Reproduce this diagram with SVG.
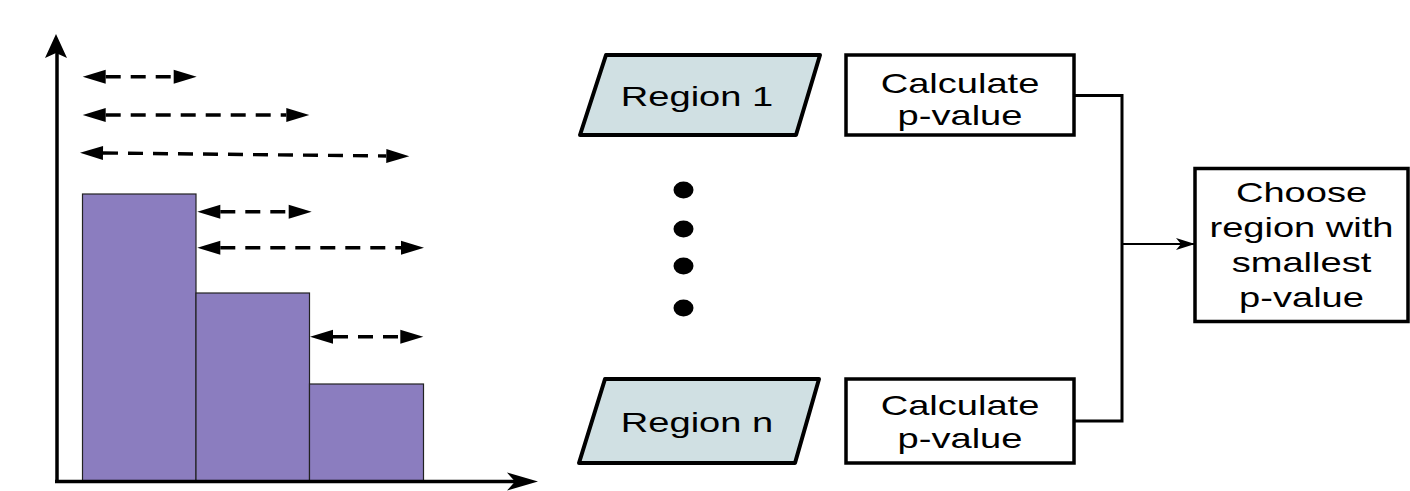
<svg xmlns="http://www.w3.org/2000/svg" width="1410" height="491" viewBox="0 0 1410 491">
<style>
.lbl{font-family:"Liberation Sans",Arial,sans-serif;font-size:28px;fill:#000;text-anchor:middle}
.box{fill:#fff;stroke:#000;stroke-width:3.5}
.para{fill:#d0e0e3;stroke:#000;stroke-width:4;stroke-linejoin:round}
.bar{fill:#8b7dbf;stroke:#222;stroke-width:1.2}
.dash{stroke:#000;stroke-width:3.4;stroke-dasharray:15 10;fill:none;marker-start:url(#dh);marker-end:url(#dh)}
.conn{stroke:#000;stroke-width:3;fill:none}
</style>
<defs>
<marker id="dh" markerUnits="userSpaceOnUse" markerWidth="26" markerHeight="16" refX="0" refY="7" orient="auto-start-reverse" overflow="visible">
<path d="M0,0 L23,7 L0,14 z" fill="#000"/>
</marker>
<marker id="ah" markerUnits="userSpaceOnUse" markerWidth="20" markerHeight="14" refX="19" refY="6" orient="auto" overflow="visible">
<path d="M0,0 L19,6 L0,12 L5,6 z" fill="#000"/>
</marker>
</defs>

<g id="chart">
<rect class="bar" x="82.5" y="194" width="113.5" height="287"/>
<rect class="bar" x="196" y="293" width="113.5" height="188"/>
<rect class="bar" x="309.5" y="384" width="114" height="97"/>
<line x1="57" y1="483" x2="57" y2="52" stroke="#000" stroke-width="3.5"/>
<path d="M56,34 L67,58 L56,53 L45,58 z" fill="#000"/>
<line x1="55" y1="481.5" x2="525" y2="481.5" stroke="#000" stroke-width="3.5"/>
<path d="M538,481.5 L507,490.5 L515,481.5 L507,472.5 z" fill="#000"/>
</g>

<g id="windows">
<line class="dash" x1="105.7" y1="76.7" x2="173.7" y2="76.7"/>
<line class="dash" x1="105.7" y1="115" x2="286.3" y2="115"/>
<line class="dash" x1="103" y1="153" x2="386.3" y2="156"/>
<line class="dash" x1="220.3" y1="211.7" x2="288.7" y2="211.7"/>
<line class="dash" x1="220.3" y1="247.7" x2="401" y2="247.7"/>
<line class="dash" x1="333" y1="336.7" x2="400.3" y2="336.7"/>
</g>

<g id="region1">
<polygon class="para" points="606,55 820,55 796,135 580,135"/>
<text class="lbl" transform="translate(697,106) scale(1.36,1)">Region 1</text>
</g>
<g id="calc1">
<rect class="box" x="846" y="55" width="228" height="80"/>
<text class="lbl" transform="translate(960,93) scale(1.36,1)">Calculate</text>
<text class="lbl" transform="translate(960,125) scale(1.36,1)">p-value</text>
</g>

<g id="dots">
<ellipse cx="683.5" cy="190" rx="10" ry="8.5" fill="#000"/>
<ellipse cx="683.5" cy="229" rx="10" ry="8.5" fill="#000"/>
<ellipse cx="683.5" cy="266" rx="10" ry="8.5" fill="#000"/>
<ellipse cx="683.5" cy="308" rx="10" ry="8.5" fill="#000"/>
</g>

<g id="regionn">
<polygon class="para" points="605,379 819,379 795,463 579,463"/>
<text class="lbl" transform="translate(697,432) scale(1.36,1)">Region n</text>
</g>
<g id="calcn">
<rect class="box" x="846" y="379" width="228" height="84"/>
<text class="lbl" transform="translate(960,415) scale(1.36,1)">Calculate</text>
<text class="lbl" transform="translate(960,448) scale(1.36,1)">p-value</text>
</g>

<g id="choose">
<rect class="box" x="1195" y="168.5" width="213" height="153"/>
<text class="lbl" transform="translate(1301.5,202) scale(1.36,1)">Choose</text>
<text class="lbl" transform="translate(1301.5,237) scale(1.36,1)">region with</text>
<text class="lbl" transform="translate(1301.5,272) scale(1.36,1)">smallest</text>
<text class="lbl" transform="translate(1301.5,307) scale(1.36,1)">p-value</text>
</g>

<g id="connectors">
<polyline class="conn" points="1074,95.5 1122,95.5 1122,421 1074,421"/>
<line x1="1122" y1="244" x2="1195" y2="244" stroke="#000" stroke-width="1.8" marker-end="url(#ah)"/>
</g>
</svg>
